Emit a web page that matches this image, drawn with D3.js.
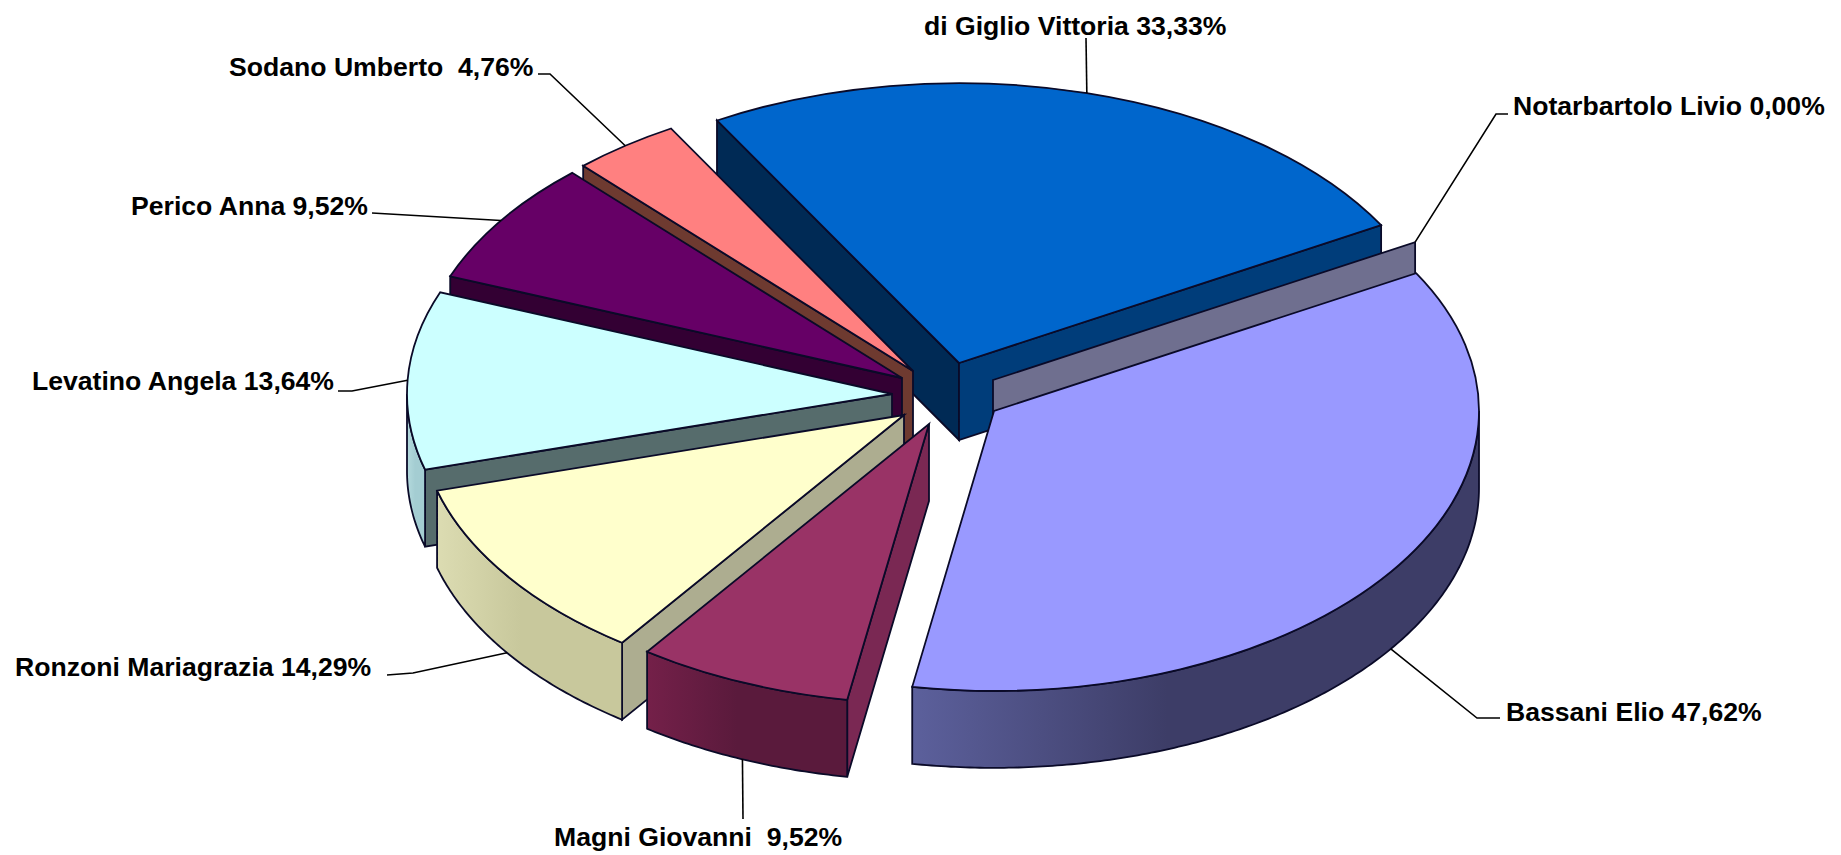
<!DOCTYPE html>
<html>
<head>
<meta charset="utf-8">
<script src="https://cdnjs.cloudflare.com/ajax/libs/d3/7.8.5/d3.min.js"></script>
<style>
  html, body { margin: 0; padding: 0; background: #fff; }
  svg { display: block; }
  text { font-family: "Liberation Sans", Arial, sans-serif; font-weight: bold; white-space: pre; fill: #000; }
</style>
</head>
<body>
<div id="chart"></div>
<script>
// pie runs clockwise starting from the Bassani slice
const categories = ['Bassani Elio', 'Magni Giovanni', 'Ronzoni Mariagrazia', 'Levatino Angela', 'Perico Anna', 'Sodano Umberto', 'di Giglio Vittoria', 'Notarbartolo Livio'];
const shares = [47.62, 9.52, 14.29, 13.64, 9.52, 4.76, 33.33, 0];
const labelTexts = ['Bassani Elio 47,62%', 'Magni Giovanni  9,52%', 'Ronzoni Mariagrazia 14,29%', 'Levatino Angela 13,64%', 'Perico Anna 9,52%', 'Sodano Umberto  4,76%', 'di Giglio Vittoria 33,33%', 'Notarbartolo Livio 0,00%'];

const width = 1841;
const height = 855;
const radius = 485;
const tilt = 0.577;
const depth = 77;
const firstAngle = 60.5 * Math.PI / 180;

// exploded position of each slice tip
const tipX = [994, 929, 904, 892, 902, 913, 959, 993];
const tipY = [411, 424, 415, 394, 378, 371, 363, 380];

const topColors = ['#9999ff', '#993366', '#ffffcc', '#ccffff', '#660066', '#ff8080', '#0066cc', '#6f6f8f'];
const startWallColors = ['#4d4d80', '#7a2853', '#adad90', '#566c6c', '#330033', '#6e3a30', '#002a55', '#6f6f8f'];
const endWallColors = [null, null, null, null, null, null, '#003d7a', '#6f6f8f'];
const rimColors = [['#5c609c', '#3d3d67'], ['#742049', '#5a1a3c'], ['#dcdcb2', '#c8c89c'], ['#b4dadd', '#a4cdd2'], ['#330033', '#330033'], ['#803f3f', '#803f3f'], ['#003366', '#003366'], ['#6f6f8f', '#6f6f8f']];

// front slices hang the leader from the bottom of the rim
const leaderFromBottom = [true, true, true, false, false, false, false, false];
const labelX = [1506, 554, 15, 32, 131, 229, 924, 1513];
const labelY = [721, 846, 676, 390, 215, 76, 35, 115];
const leaderBends = [
  [[1477, 718], [1500, 718]],
  [[743, 819]],
  [[413, 673], [387, 675]],
  [[352, 391], [338, 391]],
  [[372, 213]],
  [[550, 74], [538, 74]],
  [[1086, 38]],
  [[1496, 114], [1508, 114]]
];

const paintOrder = [6, 7, 5, 4, 3, 2, 1, 0];

const svg = d3.select('#chart').append('svg').attr('width', width).attr('height', height);
const defs = svg.append('defs');

const pie = d3.pie().sort(null).value(d => d).startAngle(firstAngle).endAngle(firstAngle + 2 * Math.PI);
const slices = pie(shares);
const arc = d3.arc().innerRadius(0).outerRadius(radius);

const rimX = a => radius * Math.sin(a);
const rimY = a => -radius * Math.cos(a) * tilt;

const rimArea = d3.area().x(a => rimX(a)).y0(a => rimY(a)).y1(a => rimY(a) + depth);
const wallLine = d3.line().curve(d3.curveLinearClosed);

function radialWall(a) {
  return wallLine([[0, 0], [rimX(a), rimY(a)], [rimX(a), rimY(a) + depth], [0, depth]]);
}

function facesViewer(normal) {
  return Math.cos(normal) < 0;
}

const stroke = '#0a0a28';
const strokeWidth = 1.8;

const g = svg.append('g').attr('class', 'slices');

paintOrder.forEach(i => {
  const s = slices[i];
  const slice = g.append('g').attr('transform', `translate(${tipX[i]},${tipY[i]})`);
  const a0 = s.startAngle;
  const a1 = s.endAngle;

  if (facesViewer(a0 - Math.PI / 2) && a1 > a0) {
    slice.append('path').attr('d', radialWall(a0)).attr('fill', startWallColors[i]).attr('stroke', stroke).attr('stroke-width', strokeWidth);
  }
  if (facesViewer(a1 + Math.PI / 2) && endWallColors[i]) {
    slice.append('path').attr('d', radialWall(a1)).attr('fill', endWallColors[i]).attr('stroke', stroke).attr('stroke-width', strokeWidth);
  }

  // outer wall only shows on the front half of the ellipse
  const from = Math.max(a0, Math.PI / 2);
  const to = Math.min(a1, 3 * Math.PI / 2);
  if (to > from) {
    const id = `rim-${i}`;
    const xs = [rimX(from), rimX(to)];
    const grad = defs.append('linearGradient').attr('id', id).attr('gradientUnits', 'userSpaceOnUse')
      .attr('x1', d3.min(xs)).attr('x2', d3.min(xs) + (d3.max(xs) - d3.min(xs)) * 0.45).attr('y1', 0).attr('y2', 0);
    grad.append('stop').attr('offset', 0).attr('stop-color', rimColors[i][0]);
    grad.append('stop').attr('offset', 1).attr('stop-color', rimColors[i][1]);
    const steps = d3.range(from, to, 0.01).concat([to]);
    slice.append('path').attr('d', rimArea(steps))
      .attr('fill', `url(#${id})`).attr('stroke', stroke).attr('stroke-width', strokeWidth);
  }

  if (a1 > a0) {
    slice.append('path').attr('d', arc(s))
      .attr('transform', `scale(1,${tilt})`)
      .attr('fill', topColors[i]).attr('stroke', stroke).attr('stroke-width', strokeWidth)
      .attr('vector-effect', 'non-scaling-stroke');
  }
});

const leader = d3.line();
const leaders = svg.append('g').attr('class', 'leaders');
slices.forEach((s, i) => {
  const mid = (s.startAngle + s.endAngle) / 2;
  const start = [tipX[i] + rimX(mid), tipY[i] + rimY(mid) + (leaderFromBottom[i] ? depth : 0)];
  leaders.append('path').attr('d', leader([start, ...leaderBends[i]]))
    .attr('fill', 'none').attr('stroke', '#000').attr('stroke-width', 1.6);
});

svg.append('g').attr('class', 'labels').selectAll('text')
  .data(categories)
  .join('text')
  .attr('x', (d, i) => labelX[i])
  .attr('y', (d, i) => labelY[i])
  .attr('font-size', 26.6)
  .text((d, i) => labelTexts[i]);
</script>
</body>
</html>
